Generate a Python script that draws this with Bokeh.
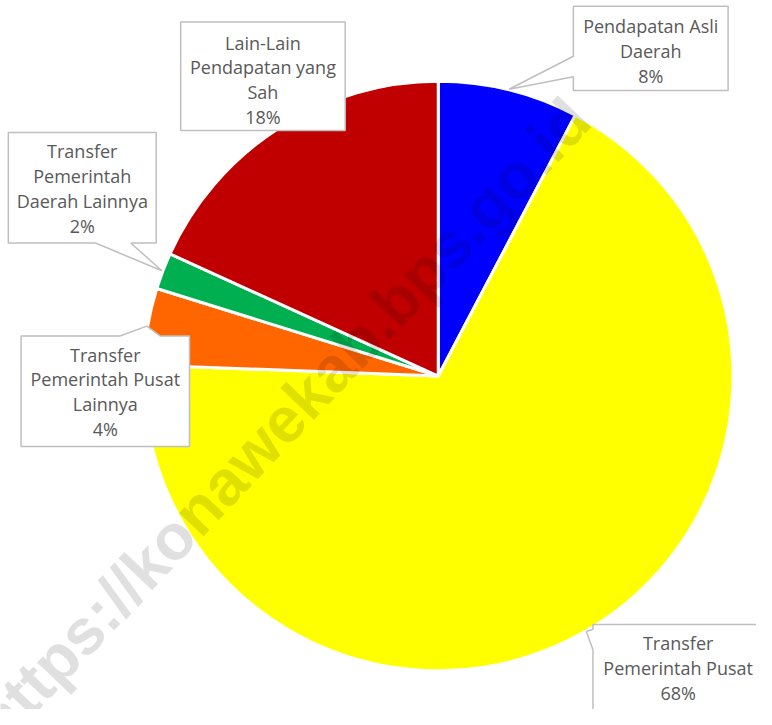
import math
from bokeh.plotting import figure
from bokeh.models import Range1d, ColumnDataSource
from bokeh.core.properties import value
from bokeh.embed import file_html
from bokeh.resources import INLINE

# ---------------- data ----------------
categories = ["Pendapatan Asli Daerah", "Transfer Pemerintah Pusat",
              "Transfer Pemerintah Pusat Lainnya", "Transfer Pemerintah Daerah Lainnya",
              "Lain-Lain Pendapatan yang Sah"]
shares = [7.7, 67.9, 4.2, 2.0, 18.2]
colors = ["#0000FF", "#FFFF00", "#FF6600", "#00B050", "#C00000"]
label_lines = [["Pendapatan Asli", "Daerah"],
               ["Transfer", "Pemerintah Pusat"],
               ["Transfer", "Pemerintah Pusat", "Lainnya"],
               ["Transfer", "Pemerintah", "Daerah Lainnya"],
               ["Lain-Lain", "Pendapatan yang", "Sah"]]
watermark = "https://konawekab.bps.go.id"

# ---------------- layout (design space 772x725, y downward) ----------------
W, H = 756, 709
DW, DH = 772, 725
CX, CY, R = 447, 384, 301
TIP_R = 302
# box: left, top, right, bottom, tail edge, tail base a, tail base b, first line y
boxes = [
    (585, 6, 743, 92, "left", 57, 78, 26),
    (605, 638, 780, 740, "left", 643, 664, 657),
    (21, 343, 193, 456, "top", 122, 163, 362),
    (8, 135, 159, 248, "bottom", 97, 133, 154),
    (184, 22, 352, 133, None, 0, 0, 43),
]
LINE_H = 25.5


def fy(y):
    return -y


p = figure(width=W, height=H, output_backend="svg", toolbar_location=None,
           x_range=Range1d(0, DW), y_range=Range1d(-DH, 0),
           min_border=0)
p.axis.visible = False
p.grid.visible = False
p.outline_line_color = None
p.background_fill_color = "white"
p.border_fill_color = "white"

# ---------------- pie ----------------
total = sum(shares)
starts, ends, mids = [], [], []
cum = 0.0
for v in shares:
    a0 = cum / total * 2 * math.pi
    cum += v
    a1 = cum / total * 2 * math.pi
    starts.append(math.pi / 2 - a0)
    ends.append(math.pi / 2 - a1)
    mids.append((a0 + a1) / 2)

src = ColumnDataSource(dict(start=starts, end=ends, color=colors, cat=categories))
p.wedge(x=CX, y=fy(CY), radius=R, start_angle="start", end_angle="end",
        direction="clock", fill_color="color", line_color="white", line_width=3,
        source=src)

# ---------------- watermark ----------------
ang = math.radians(46.5)
p.text(x=[288], y=[fy(430)], text=[watermark], angle=ang, text_align="center",
       text_baseline="alphabetic", text_font=value("Liberation Sans"),
       text_font_style="bold", text_font_size="64px", text_color="black",
       text_alpha=0.12)

# ---------------- callouts ----------------
for i, (l, t, r, b, edge, a, bb, ly) in enumerate(boxes):
    tip = (CX + TIP_R * math.sin(mids[i]), CY - TIP_R * math.cos(mids[i]))
    if edge == "left":
        pts = [(l, t), (r, t), (r, b), (l, b), (l, bb), tip, (l, a)]
    elif edge == "top":
        pts = [(l, t), (a, t), tip, (bb, t), (r, t), (r, b), (l, b)]
    elif edge == "bottom":
        pts = [(l, t), (r, t), (r, b), (bb, b), tip, (a, b), (l, b)]
    else:
        pts = [(l, t), (r, t), (r, b), (l, b)]
    p.patch([q[0] for q in pts], [fy(q[1]) for q in pts], fill_color="white",
            line_color="#BFBFBF", line_width=1.5)
    lines = label_lines[i] + [f"{round(shares[i] / total * 100)}%"]
    xs = [(l + min(r, 779)) / 2] * len(lines)
    ys = [fy(ly + k * LINE_H) for k in range(len(lines))]
    p.text(x=xs, y=ys, text=lines, text_align="center", text_baseline="middle",
           text_font=value("Open Sans"), text_font_size="18px", text_color="#595959")

open("out.html", "w").write(file_html(p, INLINE))
